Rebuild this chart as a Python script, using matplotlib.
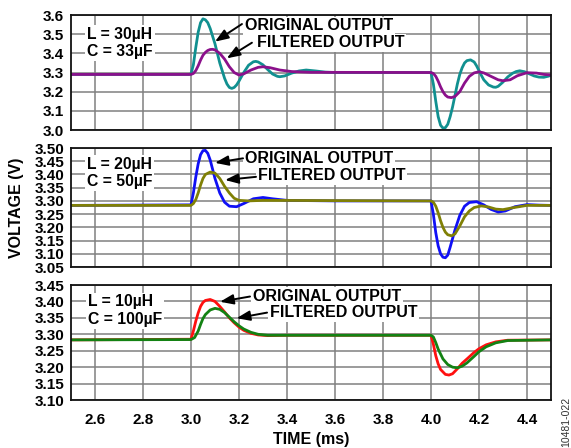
import matplotlib
matplotlib.use("Agg")
import matplotlib.pyplot as plt

plt.rcParams['font.family'] = ['Liberation Sans', 'DejaVu Sans']
plt.rcParams['font.weight'] = 'bold'

# ---------------- data ----------------
x_ticks = [2.6, 2.8, 3.0, 3.2, 3.4, 3.6, 3.8, 4.0, 4.2, 4.4]
x_tick_labels = ["2.6", "2.8", "3.0", "3.2", "3.4", "3.6", "3.8", "4.0", "4.2", "4.4"]

# Panel 1: L = 30uH, C = 33uF
t1_orig = [2.5, 2.99, 3.0, 3.01, 3.02, 3.03, 3.04, 3.05, 3.06, 3.07, 3.08, 3.09, 3.10, 3.11, 3.12,
           3.13, 3.14, 3.15, 3.16, 3.17, 3.18, 3.19, 3.20, 3.22, 3.24, 3.26, 3.27, 3.28, 3.30, 3.32,
           3.34, 3.36, 3.37, 3.39, 3.42, 3.45, 3.48, 3.52, 3.56, 3.60, 3.99,
           4.00, 4.01, 4.02, 4.03, 4.04, 4.05, 4.06, 4.07, 4.08, 4.09, 4.10, 4.11, 4.12, 4.13, 4.14,
           4.15, 4.165, 4.18, 4.19, 4.20, 4.21, 4.22, 4.24, 4.26, 4.27, 4.28, 4.30, 4.32, 4.34, 4.355,
           4.37, 4.39, 4.41, 4.43, 4.45, 4.47, 4.49, 4.5]
v1_orig = [3.29, 3.29, 3.292, 3.34, 3.43, 3.51, 3.56, 3.58, 3.575, 3.56, 3.53, 3.49, 3.45, 3.40, 3.35,
           3.31, 3.27, 3.24, 3.222, 3.217, 3.222, 3.235, 3.255, 3.30, 3.338, 3.356, 3.358, 3.355, 3.34, 3.315,
           3.292, 3.28, 3.278, 3.282, 3.297, 3.308, 3.313, 3.308, 3.302, 3.30, 3.30,
           3.30, 3.24, 3.15, 3.07, 3.025, 3.01, 3.012, 3.03, 3.07, 3.12, 3.18, 3.24, 3.29, 3.325, 3.35,
           3.362, 3.366, 3.355, 3.335, 3.31, 3.285, 3.262, 3.235, 3.224, 3.223, 3.228, 3.25, 3.277, 3.296, 3.305,
           3.309, 3.304, 3.293, 3.282, 3.276, 3.275, 3.281, 3.286]
t1_filt = [2.5, 3.0, 3.01, 3.02, 3.03, 3.04, 3.05, 3.06, 3.07, 3.08, 3.09, 3.10, 3.12, 3.14, 3.16,
           3.18, 3.20, 3.22, 3.25, 3.28, 3.30, 3.33, 3.37, 3.42, 3.50, 3.99,
           4.00, 4.01, 4.02, 4.03, 4.04, 4.05, 4.06, 4.07, 4.085, 4.10, 4.12, 4.14, 4.16, 4.18, 4.20,
           4.22, 4.25, 4.28, 4.30, 4.33, 4.36, 4.40, 4.44, 4.47, 4.5]
v1_filt = [3.29, 3.29, 3.295, 3.31, 3.335, 3.365, 3.39, 3.405, 3.415, 3.42, 3.421, 3.418, 3.40, 3.37, 3.33,
           3.30, 3.287, 3.293, 3.313, 3.327, 3.33, 3.325, 3.313, 3.305, 3.301, 3.30,
           3.30, 3.295, 3.28, 3.255, 3.225, 3.20, 3.182, 3.172, 3.169, 3.175, 3.20, 3.245, 3.28, 3.298, 3.304,
           3.298, 3.28, 3.262, 3.257, 3.262, 3.283, 3.299, 3.297, 3.29, 3.287]

# Panel 2: L = 20uH, C = 50uF
t2_orig = [2.5, 3.0, 3.01, 3.02, 3.03, 3.04, 3.05, 3.06, 3.07, 3.08, 3.09, 3.10, 3.12, 3.14, 3.16,
           3.19, 3.22, 3.26, 3.30, 3.34, 3.40, 3.60, 3.99,
           4.00, 4.01, 4.02, 4.03, 4.04, 4.05, 4.06, 4.07, 4.08, 4.10, 4.12, 4.14, 4.16, 4.19, 4.22,
           4.25, 4.28, 4.31, 4.35, 4.40, 4.45, 4.5]
v2_orig = [3.283, 3.285, 3.33, 3.39, 3.44, 3.475, 3.49, 3.491, 3.48, 3.455, 3.42, 3.385, 3.33, 3.295, 3.28,
           3.278, 3.29, 3.308, 3.313, 3.308, 3.302, 3.30, 3.30,
           3.30, 3.25, 3.18, 3.13, 3.10, 3.087, 3.085, 3.095, 3.125, 3.19, 3.245, 3.28, 3.294, 3.297, 3.285,
           3.268, 3.258, 3.262, 3.278, 3.286, 3.284, 3.283]
t2_filt = [2.5, 3.0, 3.01, 3.02, 3.03, 3.04, 3.05, 3.06, 3.08, 3.10, 3.12, 3.14, 3.16, 3.18, 3.20,
           3.24, 3.30, 3.99,
           4.00, 4.01, 4.02, 4.03, 4.04, 4.05, 4.06, 4.07, 4.086, 4.10, 4.12, 4.14, 4.16, 4.18, 4.21,
           4.24, 4.27, 4.30, 4.34, 4.40, 4.5]
v2_filt = [3.283, 3.283, 3.29, 3.305, 3.33, 3.36, 3.385, 3.40, 3.409, 3.405, 3.385, 3.355, 3.33, 3.31, 3.302,
           3.30, 3.302, 3.30,
           3.30, 3.295, 3.28, 3.255, 3.225, 3.20, 3.182, 3.172, 3.168, 3.175, 3.205, 3.24, 3.262, 3.275, 3.281,
           3.277, 3.269, 3.267, 3.274, 3.283, 3.283]

# Panel 3: L = 10uH, C = 100uF
t3_orig = [2.5, 3.0, 3.01, 3.02, 3.03, 3.04, 3.05, 3.06, 3.08, 3.10, 3.12, 3.14, 3.16, 3.18, 3.20,
           3.22, 3.25, 3.28, 3.32, 3.40, 3.99,
           4.00, 4.01, 4.02, 4.03, 4.04, 4.06, 4.075, 4.09, 4.11, 4.13, 4.15, 4.18, 4.20, 4.23, 4.27,
           4.32, 4.5]
v3_orig = [3.283, 3.285, 3.31, 3.34, 3.365, 3.385, 3.397, 3.403, 3.406, 3.40, 3.385, 3.368, 3.35, 3.335, 3.322,
           3.312, 3.303, 3.298, 3.296, 3.297, 3.297,
           3.297, 3.27, 3.235, 3.21, 3.193, 3.178, 3.176, 3.18, 3.195, 3.212, 3.225, 3.245, 3.256, 3.268, 3.277,
           3.282, 3.283]
t3_filt = [2.5, 3.0, 3.015, 3.03, 3.04, 3.05, 3.06, 3.08, 3.10, 3.12, 3.14, 3.16, 3.18, 3.20, 3.22,
           3.25, 3.28, 3.32, 3.40, 3.99,
           4.00, 4.01, 4.02, 4.03, 4.05, 4.07, 4.09, 4.11, 4.13, 4.15, 4.18, 4.20, 4.23, 4.27, 4.32, 4.5]
v3_filt = [3.283, 3.284, 3.29, 3.31, 3.33, 3.348, 3.36, 3.374, 3.379, 3.376, 3.366, 3.352, 3.338, 3.326, 3.316,
           3.306, 3.30, 3.297, 3.297, 3.297,
           3.297, 3.292, 3.275, 3.255, 3.225, 3.208, 3.200, 3.198, 3.203, 3.213, 3.233, 3.247, 3.262, 3.274, 3.281, 3.283]

panel_lc = ["L = 30µH\nC = 33µF", "L = 20µH\nC = 50µF", "L = 10µH\nC = 100µF"]
y_ticks = [[3.0, 3.1, 3.2, 3.3, 3.4, 3.5, 3.6],
           [3.05, 3.10, 3.15, 3.20, 3.25, 3.30, 3.35, 3.40, 3.45, 3.50],
           [3.10, 3.15, 3.20, 3.25, 3.30, 3.35, 3.40, 3.45]]
y_tick_labels = [["3.0", "3.1", "3.2", "3.3", "3.4", "3.5", "3.6"],
                 ["3.05", "3.10", "3.15", "3.20", "3.25", "3.30", "3.35", "3.40", "3.45", "3.50"],
                 ["3.10", "3.15", "3.20", "3.25", "3.30", "3.35", "3.40", "3.45"]]
series = [((t1_orig, v1_orig), (t1_filt, v1_filt)),
          ((t2_orig, v2_orig), (t2_filt, v2_filt)),
          ((t3_orig, v3_orig), (t3_filt, v3_filt))]
colors = [("#119090", "#8B108B"), ("#1010F5", "#808005"), ("#FF1010", "#138213")]

# layout (positions / text anchors in data coordinates)
axes_rects = [[0.1243, 0.7098, 0.8406, 0.2567],
              [0.1243, 0.4040, 0.8406, 0.2656],
              [0.1243, 0.1071, 0.8406, 0.2567]]
lc_pos = [(2.567, 3.454), (2.567, 3.405), (2.571, 3.3715)]
orig_txt = [(3.225, 3.543), (3.225, 3.462), (3.258, 3.414)]
filt_txt = [(3.275, 3.454), (3.279, 3.396), (3.329, 3.366)]
orig_arrow = [((3.2125, 3.553), (3.10, 3.461)), ((3.217, 3.461), (3.10, 3.444)), ((3.246, 3.415), (3.121, 3.399))]
filt_arrow = [((3.254, 3.4555), (3.149, 3.374)), ((3.271, 3.391), (3.142, 3.379)), ((3.317, 3.366), (3.19, 3.349))]

fig = plt.figure(figsize=(5.71, 4.48), dpi=100)
box = dict(boxstyle="square,pad=0.12", fc="white", ec="none")
axes = []
for i in range(3):
    ax = fig.add_axes(axes_rects[i])
    axes.append(ax)
    (to, vo), (tf, vf) = series[i]
    ax.plot(to, vo, color=colors[i][0], lw=2.0, zorder=3, solid_joinstyle='round')
    ax.plot(tf, vf, color=colors[i][1], lw=2.0, zorder=4, solid_joinstyle='round')
    ax.set_xlim(2.5, 4.5)
    ax.set_ylim(y_ticks[i][0], y_ticks[i][-1])
    ax.set_xticks(x_ticks)
    ax.set_yticks(y_ticks[i])
    ax.set_yticklabels(y_tick_labels[i], fontsize=11, fontweight='bold')
    if i == 2:
        ax.set_xticklabels(x_tick_labels, fontsize=11, fontweight='bold')
    else:
        ax.set_xticklabels([])
    ax.tick_params(length=0, pad=5)
    ax.tick_params(axis='x', pad=9)
    ax.grid(True, color="#808080", lw=1.1, zorder=1)
    ax.set_axisbelow(True)
    for s in ax.spines.values():
        s.set_color("#111111")
        s.set_linewidth(1.3)
        s.set_zorder(6)
    ax.text(lc_pos[i][0], lc_pos[i][1], panel_lc[i], fontsize=11.3, fontweight='bold',
            ha='left', va='center', linespacing=1.22, bbox=box, zorder=5)
    ax.text(orig_txt[i][0], orig_txt[i][1], "ORIGINAL OUTPUT", fontsize=11.5, fontweight='bold',
            ha='left', va='center', bbox=box, zorder=5)
    ax.text(filt_txt[i][0], filt_txt[i][1], "FILTERED OUTPUT", fontsize=11.5, fontweight='bold',
            ha='left', va='center', bbox=box, zorder=5)
    for (a, b) in (orig_arrow[i], filt_arrow[i]):
        ax.annotate("", xy=b, xytext=a,
                    arrowprops=dict(arrowstyle="-|>,head_length=0.8,head_width=0.3",
                                    color="black", lw=1.4, shrinkA=0, shrinkB=0),
                    zorder=6)

fig.text(0.029, 0.536, "VOLTAGE (V)", rotation=90, fontsize=11.5, fontweight='bold',
         ha='center', va='center')
fig.text(0.545, 0.018, "TIME (ms)", fontsize=11.5, fontweight='bold', ha='center', va='center')
fig.text(0.991, 0.058, "10481-022", rotation=90, fontsize=7.5, fontweight='normal',
         color="#333333", ha='center', va='center')

fig.savefig("out.png", dpi=100)
